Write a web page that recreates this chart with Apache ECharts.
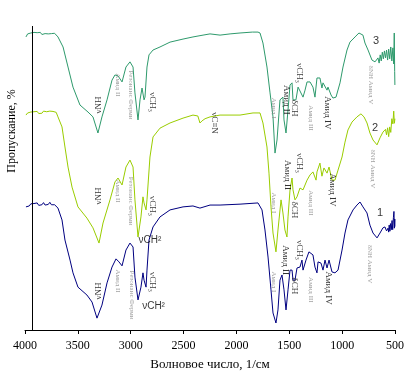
<!DOCTYPE html>
<html><head><meta charset="utf-8">
<script src="https://cdn.jsdelivr.net/npm/echarts@6/dist/echarts.min.js"></script>
<style>html,body{margin:0;padding:0;background:#fff}#c{width:415px;height:371px}</style>
</head><body><div id="c"></div>
<script>
// Spectrum 3 (top), [wavenumber, transmittance(arb. %)]
const spectrum3 = [[3991,96.4],[3975,97.4],[3960,97.0],[3945,97.7],[3930,97.2],[3915,97.9],[3900,97.3],[3885,97.8],[3870,97.4],[3855,97.9],[3840,97.2],[3825,97.8],[3810,97.5],[3795,98.0],[3780,97.4],[3765,97.9],[3750,97.5],[3735,98.0],[3720,97.6],[3705,97.9],
[3688,96.4],[3640,93.1],[3593,86.5],[3546,79.9],[3480,74.0],[3404,71.7],[3357,70.1],[3310,64.8],[3272,70.1],[3224,75.7],[3177,82.2],[3149,83.9],[3120,83.6],[3082,81.6],[3045,86.5],[3007,88.2],[2978,86.5],[2960,78.0],[2931,69.1],[2912,75.7],[2893,79.6],[2884,79.6],[2874,75.7],[2865,76.6],[2846,86.5],[2827,90.5],[2789,92.1],[2723,93.1],[2628,94.7],[2505,95.7],[2411,96.4],[2316,97.0],[2250,97.4],[2155,97.0],[2060,97.4],[1966,97.7],[1850,98.0],[1796,98.0],[1777,97.7],[1749,94.4],[1711,86.5],[1682,78.0],[1654,70.1],[1635,58.2],[1616,62.5],[1588,75.7],[1560,76.6],[1550,69.1],[1531,64.8],[1512,72.4],[1493,80.6],[1474,81.3],[1465,75.7],[1437,75.7],[1417,79.9],[1399,79.6],[1370,76.6],[1351,78.9],[1332,81.6],[1304,81.6],[1276,79.9],[1257,76.6],[1238,82.9],[1210,82.9],[1191,79.6],[1181,81.3],[1143,78.9],[1134,79.9],[1105,77.3],[1087,76.3],[1058,76.6],[1020,81.3],[992,86.5],[954,92.1],[926,94.7],[878,96.4],[841,97.7],[803,97.0],[784,94.4],[755,92.1],[718,88.8],[689,88.2],[661,89.5],[650,87.8],[640,90.5],[630,88.5],[620,91.4],[610,89.2],[600,91.8],[590,89.5],[580,92.1],[570,88.8],[560,92.4],[550,89.2],[540,93.1],[530,88.5],[520,92.8],[512,87.5],[507,97.7],[503,85.0],[501,80.6]];

// Spectrum 2 (middle)
const spectrum2 = [[3991,70.7],[3975,71.4],[3960,71.1],[3945,71.7],[3930,71.1],[3915,71.8],[3900,71.4],[3885,71.9],[3870,71.2],[3855,71.7],[3840,71.3],[3825,72.0],[3810,71.4],[3795,71.8],[3780,71.2],[3765,72.0],[3750,71.5],[3735,71.9],[3720,71.3],[3705,71.6],
[3688,70.1],[3650,66.8],[3622,60.2],[3593,53.6],[3555,47.0],[3499,40.5],[3414,36.8],[3357,33.6],[3300,28.6],[3262,35.2],[3196,42.8],[3149,48.7],[3120,50.0],[3082,47.7],[3045,53.6],[3007,55.9],[2978,53.6],[2960,42.8],[2931,30.6],[2903,37.2],[2884,43.8],[2874,41.8],[2855,39.5],[2846,42.8],[2818,56.9],[2789,63.5],[2723,66.4],[2628,68.1],[2505,69.7],[2411,70.7],[2365,70.4],[2345,68.1],[2325,68.8],[2297,69.5],[2250,70.1],[2155,70.7],[1966,70.7],[1843,71.4],[1777,71.4],[1749,68.1],[1711,60.2],[1692,51.6],[1673,40.5],[1654,31.9],[1626,25.7],[1607,32.9],[1578,42.8],[1560,38.5],[1541,32.9],[1522,30.6],[1512,37.2],[1493,46.1],[1474,50.0],[1465,46.1],[1446,42.8],[1427,43.8],[1399,46.7],[1370,46.1],[1332,49.3],[1304,51.0],[1276,52.0],[1247,49.3],[1238,52.0],[1210,54.9],[1191,50.6],[1172,53.3],[1143,51.6],[1124,53.6],[1096,49.3],[1068,49.3],[1039,52.6],[1001,56.9],[973,61.8],[945,65.8],[907,68.4],[860,70.1],[822,71.1],[793,70.1],[765,68.1],[737,64.8],[708,62.5],[670,60.9],[642,63.2],[614,65.1],[600,64.5],[590,66.0],[580,64.2],[570,66.5],[560,63.6],[550,66.8],[540,65.0],[530,69.5],[520,67.8],[512,72.0],[506,68.0],[501,69.5]];

// Spectrum 1 (bottom)
const spectrum1 = [[3991,40.5],[3975,41.1],[3960,40.8],[3945,41.5],[3930,40.9],[3915,41.6],[3900,41.1],[3885,41.8],[3870,41.0],[3855,41.6],[3840,41.2],[3825,41.9],[3810,41.1],[3795,41.7],[3780,41.3],[3765,42.0],[3750,41.2],[3735,41.8],[3720,41.2],[3705,41.5],
[3688,40.1],[3650,36.2],[3622,29.6],[3574,23.0],[3546,18.8],[3499,14.1],[3414,11.5],[3366,9.2],[3319,3.9],[3272,8.2],[3224,15.5],[3177,20.7],[3139,23.4],[3111,22.4],[3082,21.1],[3045,26.3],[3007,28.6],[2978,27.3],[2960,17.4],[2931,9.9],[2903,14.1],[2884,18.8],[2874,16.4],[2855,14.1],[2846,19.7],[2827,29.6],[2789,33.9],[2723,37.2],[2628,39.5],[2505,40.5],[2411,40.8],[2345,40.1],[2250,41.1],[2155,41.1],[1966,41.4],[1796,41.8],[1758,39.5],[1730,32.9],[1701,24.0],[1673,13.2],[1654,5.6],[1626,2.3],[1607,6.6],[1588,16.4],[1569,18.1],[1550,13.2],[1531,6.6],[1512,13.2],[1493,19.7],[1474,19.7],[1465,16.4],[1446,16.4],[1427,20.4],[1399,20.7],[1380,23.0],[1370,19.7],[1342,23.0],[1314,25.7],[1276,24.7],[1257,20.7],[1238,18.8],[1228,22.4],[1200,22.0],[1181,19.7],[1162,23.0],[1143,20.4],[1124,23.0],[1096,19.1],[1068,18.8],[1039,19.7],[1001,26.3],[973,31.9],[945,36.2],[897,39.5],[860,41.1],[831,42.1],[803,40.5],[765,38.5],[737,34.5],[708,31.9],[670,30.3],[642,31.9],[614,33.6],[595,33.9],[580,32.6],[566,33.5],[560,32.2],[555,34.5],[548,32.5],[543,35.0],[535,33.0],[528,36.0],[522,33.0],[515,37.0],[510,39.0],[506,33.5],[502,36.5],[501,34.0]];

const seriesNames = ['1', '2', '3'];
const xTickValues = [4000, 3500, 3000, 2500, 2000, 1500, 1000, 500];
const axisTitles = ['Волновое число, 1/см', 'Пропускание, %'];
const yAxisLineAt = [3934];

// Band assignments: [text, wavenumber, value, kind]
const annotations = [
 ['νNH',3300,74.0,'ccw'],['Амид II',3120,80.6,'g'],['Резонанс Ферми',2997,77.3,'g'],['νCH₃',2799,75.0,'b'],
 ['Амид I',1645,73.0,'g'],['Амид II',1531,75.7,'b'],['νCH₃',1408,84.5,'b'],['δCH',1455,73.0,'b'],
 ['Амид III',1294,69.7,'g'],['Амид IV',1143,71.4,'b'],['δNH Амид V',727,80.6,'g'],['3',680,95.1,'n'],
 ['νNH',3300,44.1,'ccw'],['Амид II',3120,45.7,'g'],['Резонанс Ферми',2997,42.4,'g'],['νCH₃',2799,40.8,'b'],
 ['νCH²',2818,29.6,'h'],['νC≡N',2212,68.1,'b'],['Амид I',1645,41.8,'g'],['Амид II',1522,51.0,'b'],
 ['νCH₃',1408,54.9,'b'],['δCH',1455,39.5,'b'],['Амид III',1294,41.8,'g'],['Амид IV',1096,46.1,'b'],
 ['δNH Амид V',708,53.0,'g'],['2',689,66.4,'n'],
 ['νNH',3300,12.8,'ccw'],['Амид II',3120,16.1,'g'],['Резонанс Ферми',2988,11.5,'g'],['νCH₃',2799,15.8,'b'],
 ['νCH²',2784,7.9,'h'],['Амид I',1645,15.8,'g'],['Амид II',1541,23.0,'b'],['νCH₃',1408,26.3,'b'],
 ['δCH',1455,14.5,'b'],['Амид III',1294,13.2,'g'],['Амид IV',1134,13.8,'b'],['δNH Амид V',736,21.7,'g'],
 ['1',642,38.5,'n']
];

const styles = {
  b:   {rotate: -90, color: '#000', fontSize: 9, fontFamily: 'Liberation Serif'},
  ccw: {rotate: 90, color: '#000', fontSize: 9, fontFamily: 'Liberation Serif'},
  g:   {rotate: -90, color: '#8a8a8a', fontSize: 7, fontFamily: 'Liberation Serif'},
  h:   {rotate: 0, color: '#000', fontSize: 10, fontFamily: 'Liberation Sans'},
  n:   {rotate: 0, color: '#000', fontSize: 11, fontFamily: 'Liberation Sans'}
};

const chart = echarts.init(document.getElementById('c'), null, {renderer: 'canvas'});
const lineStyle = c => ({color: c, width: 1});
const mk = (name, data, color) => ({
  name, type: 'line', data, showSymbol: false, symbol: 'none', silent: true,
  lineStyle: lineStyle(color), itemStyle: {color}, z: 3
});

const s1 = mk(seriesNames[0], spectrum1, '#000080');
s1.markLine = {
  silent: true, symbol: 'none', label: {show: false},
  lineStyle: {color: '#000', width: 1, type: 'solid'},
  data: yAxisLineAt.map(v => ({xAxis: v}))
};

chart.setOption({
  animation: false,
  backgroundColor: '#fff',
  grid: {left: 25, right: 20, top: 26, bottom: 41, outerBoundsMode: 'none', containLabel: false},
  xAxis: {
    type: 'value', inverse: true, min: 500, max: 4000, interval: 500,
    name: axisTitles[0], nameLocation: 'middle', nameGap: 28,
    nameTextStyle: {fontFamily: 'Liberation Serif', fontSize: 13, color: '#000'},
    axisLine: {lineStyle: {color: '#000', width: 1}},
    axisTick: {show: true, length: 4, lineStyle: {color: '#000'}},
    axisLabel: {color: '#000', fontFamily: 'Liberation Serif', fontSize: 12, margin: 10,
      formatter: v => xTickValues.includes(v) ? String(v) : ''},
    splitLine: {show: false}
  },
  yAxis: {
    type: 'value', min: 0, max: 100,
    axisLine: {show: false}, axisTick: {show: false}, axisLabel: {show: false}, splitLine: {show: false}
  },
  graphic: [{
    type: 'text', x: 12, y: 131, rotation: Math.PI / 2,
    style: {text: axisTitles[1], font: '12px "Liberation Serif"', fill: '#000', align: 'center', verticalAlign: 'middle'}
  }],
  series: [
    mk(seriesNames[2], spectrum3, '#2E9A6C'),
    mk(seriesNames[1], spectrum2, '#9ACD00'),
    s1,
    {
      type: 'scatter', symbolSize: 0, silent: true, z: 5,
      data: annotations.map(a => ({
        value: [a[1], a[2]],
        label: Object.assign({show: true, position: 'inside', formatter: a[0], align: 'center', verticalAlign: 'middle'}, styles[a[3]])
      }))
    }
  ]
});
</script></body></html>
